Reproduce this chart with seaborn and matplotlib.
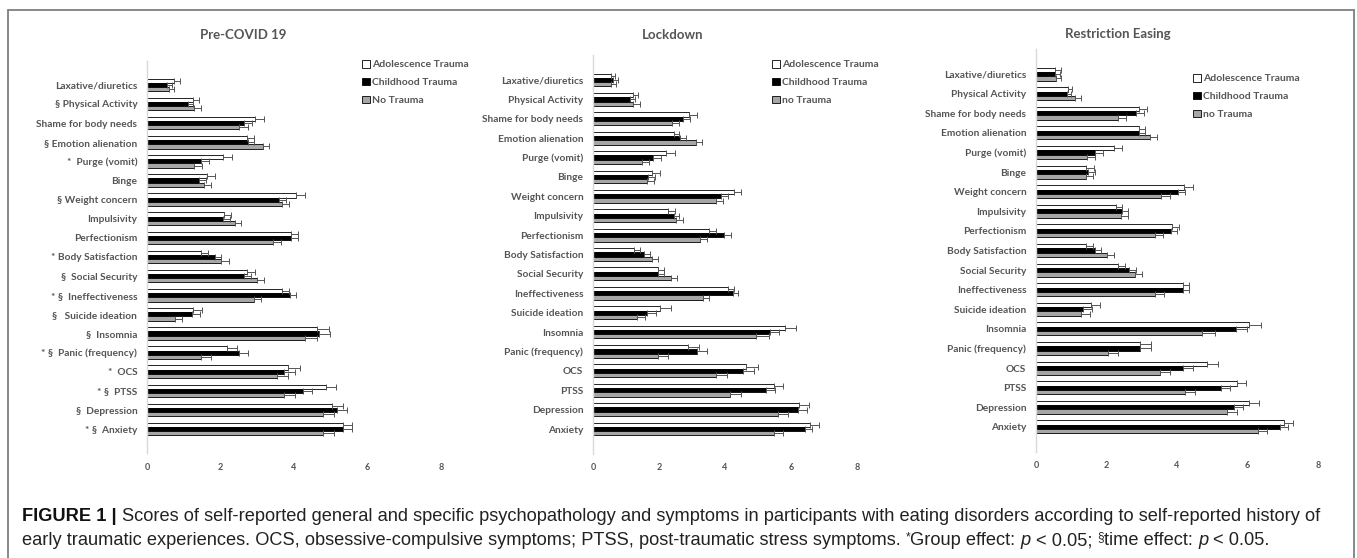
import numpy as np
import pandas as pd
import matplotlib
matplotlib.use("Agg")
import matplotlib.pyplot as plt
import seaborn as sns

# ---- categories (top to bottom) ----
categories = ["Laxative/diuretics", "Physical Activity", "Shame for body needs",
              "Emotion alienation", "Purge (vomit)", "Binge", "Weight concern",
              "Impulsivity", "Perfectionism", "Body Satisfaction", "Social Security",
              "Ineffectiveness", "Suicide ideation", "Insomnia", "Panic (frequency)",
              "OCS", "PTSS", "Depression", "Anxiety"]

# significance markers shown only on the first panel
pre_labels = ["Laxative/diuretics", "§ Physical Activity", "Shame for body needs",
              "§ Emotion alienation", "*  Purge (vomit)", "Binge", "§ Weight concern",
              "Impulsivity", "Perfectionism", "* Body Satisfaction", "§  Social Security",
              "* §  Ineffectiveness", "§   Suicide ideation", "§  Insomnia",
              "* §  Panic (frequency)", "*  OCS", "* §  PTSS", "§  Depression",
              "* §  Anxiety"]

groups = ["Adolescence Trauma", "Childhood Trauma", "No Trauma"]

# ---- Pre-COVID 19 ----
pre_adol = [0.74, 1.26, 2.95, 2.73, 2.06, 1.64, 4.06, 2.10, 3.91, 1.48, 2.73, 3.68, 1.26, 4.63, 2.17, 3.85, 4.86, 5.04, 5.32]
pre_child = [0.54, 1.11, 2.65, 2.74, 1.46, 1.41, 3.58, 2.08, 3.92, 1.84, 2.65, 3.89, 1.22, 4.67, 2.49, 3.72, 4.24, 5.16, 5.32]
pre_none = [0.60, 1.29, 2.51, 3.15, 1.29, 1.55, 3.66, 2.39, 3.44, 2.02, 3.00, 2.91, 0.75, 4.31, 1.48, 3.53, 3.74, 4.80, 4.80]
pre_adol_err = [0.15, 0.15, 0.24, 0.18, 0.26, 0.21, 0.23, 0.18, 0.19, 0.17, 0.21, 0.19, 0.24, 0.33, 0.27, 0.31, 0.27, 0.28, 0.25]
pre_child_err = [0.13, 0.15, 0.21, 0.18, 0.22, 0.19, 0.19, 0.18, 0.19, 0.17, 0.18, 0.16, 0.21, 0.32, 0.26, 0.32, 0.26, 0.27, 0.25]
pre_none_err = [0.14, 0.17, 0.23, 0.18, 0.21, 0.20, 0.21, 0.17, 0.21, 0.22, 0.19, 0.20, 0.19, 0.32, 0.26, 0.31, 0.30, 0.30, 0.30]

# ---- Lockdown ----
lock_adol = [0.54, 1.20, 2.90, 2.45, 2.21, 1.80, 4.27, 2.27, 3.52, 1.23, 1.96, 4.08, 2.03, 5.81, 2.87, 4.65, 5.49, 6.25, 6.57]
lock_child = [0.62, 1.12, 2.74, 2.63, 1.82, 1.68, 3.89, 2.44, 3.98, 1.56, 1.96, 4.23, 1.64, 5.35, 3.16, 4.56, 5.23, 6.20, 6.43]
lock_none = [0.54, 1.20, 2.38, 3.11, 1.47, 1.65, 3.72, 2.53, 3.23, 1.78, 2.36, 3.32, 1.33, 4.95, 1.96, 3.73, 4.16, 5.62, 5.48]
lock_adol_err = [0.12, 0.16, 0.25, 0.17, 0.26, 0.22, 0.21, 0.20, 0.21, 0.18, 0.18, 0.18, 0.32, 0.35, 0.33, 0.34, 0.28, 0.30, 0.28]
lock_child_err = [0.14, 0.14, 0.21, 0.19, 0.23, 0.20, 0.19, 0.17, 0.19, 0.17, 0.18, 0.16, 0.27, 0.30, 0.29, 0.33, 0.29, 0.28, 0.22]
lock_none_err = [0.15, 0.21, 0.24, 0.19, 0.24, 0.21, 0.22, 0.20, 0.23, 0.18, 0.20, 0.20, 0.25, 0.37, 0.30, 0.33, 0.32, 0.29, 0.29]

# ---- Restriction Easing ----
ease_adol = [0.55, 0.91, 2.91, 2.91, 2.20, 1.43, 4.20, 2.26, 3.87, 1.42, 2.32, 4.16, 1.55, 6.05, 2.96, 4.86, 5.71, 6.05, 7.04]
ease_child = [0.54, 0.88, 2.84, 2.92, 1.66, 1.48, 4.03, 2.43, 3.82, 1.67, 2.65, 4.18, 1.33, 5.67, 2.96, 4.16, 5.24, 5.61, 6.93]
ease_none = [0.56, 1.12, 2.34, 3.24, 1.46, 1.42, 3.56, 2.41, 3.39, 2.01, 2.80, 3.38, 1.27, 4.70, 2.03, 3.52, 4.24, 5.43, 6.31]
ease_adol_err = [0.15, 0.10, 0.24, 0.18, 0.25, 0.21, 0.24, 0.19, 0.19, 0.19, 0.20, 0.19, 0.27, 0.32, 0.31, 0.31, 0.25, 0.28, 0.24]
ease_child_err = [0.15, 0.10, 0.22, 0.18, 0.23, 0.18, 0.21, 0.19, 0.19, 0.18, 0.18, 0.17, 0.25, 0.32, 0.31, 0.29, 0.25, 0.25, 0.22]
ease_none_err = [0.14, 0.17, 0.22, 0.19, 0.20, 0.20, 0.23, 0.20, 0.21, 0.20, 0.21, 0.24, 0.26, 0.37, 0.29, 0.29, 0.28, 0.28, 0.25]

x_ticks = [0, 2, 4, 6, 8]

W, H = 1357, 558
sns.set_style("white")
plt.rcParams["font.family"] = ["Lato", "DejaVu Sans"]

LABEL_COL = "#555555"
bar_colors = {"Adolescence Trauma": "#ffffff", "Childhood Trauma": "#000000", "No Trauma": "#a6a6a6"}

fig = plt.figure(figsize=(W / 100, H / 100), dpi=100)


def px_axes(x0, x1, ytop, ybot):
    return [x0 / W, 1 - ybot / H, (x1 - x0) / W, (ybot - ytop) / H]


panels = [
    dict(title="Pre-COVID 19", rect=px_axes(147, 441, 60.7, 453.3), title_xy=(243, 35),
         leg_xy=(362, 60), labels=pre_labels,
         vals=[pre_adol, pre_child, pre_none], errs=[pre_adol_err, pre_child_err, pre_none_err],
         leg_labels=["Adolescence Trauma", "Childhood Trauma", "No Trauma"]),
    dict(title="Lockdown", rect=px_axes(593, 857, 55.5, 453.5), title_xy=(673, 35),
         leg_xy=(772, 60), labels=categories,
         vals=[lock_adol, lock_child, lock_none], errs=[lock_adol_err, lock_child_err, lock_none_err],
         leg_labels=["Adolescence Trauma", "Childhood Trauma", "no Trauma"]),
    dict(title="Restriction Easing", rect=px_axes(1036, 1318, 49.4, 451.6), title_xy=(1118, 34),
         leg_xy=(1193, 74), labels=categories,
         vals=[ease_adol, ease_child, ease_none], errs=[ease_adol_err, ease_child_err, ease_none_err],
         leg_labels=["Adolescence Trauma", "Childhood Trauma", "no Trauma"]),
]

for p in panels:
    ax = fig.add_axes(p["rect"])
    df = pd.DataFrame({
        "category": categories * 3,
        "group": np.repeat(groups, len(categories)),
        "score": np.concatenate(p["vals"]),
    })
    sns.barplot(data=df, x="score", y="category", hue="group", order=categories,
                hue_order=groups, palette=bar_colors, orient="h", width=0.66,
                errorbar=None, edgecolor="#000000", linewidth=0.6, ax=ax, legend=True,
                saturation=1)
    # one-sided error bars from the bar ends
    for cont, err in zip(ax.containers, p["errs"]):
        ys = [b.get_y() + b.get_height() / 2 for b in cont]
        xs = [b.get_width() for b in cont]
        ax.errorbar(xs, ys, xerr=[np.zeros(len(err)), err], fmt="none",
                    ecolor="#555555", elinewidth=0.7, capsize=2.0, capthick=0.7)
    ax.set_xlim(0, 8)
    ax.set_xticks(x_ticks)
    ax.set_xticklabels([str(t) for t in x_ticks], fontsize=6.5, fontweight="bold", color=LABEL_COL)
    ax.set_yticks(range(len(categories)))
    ax.set_yticklabels(p["labels"], fontsize=7.3, fontweight="bold", color=LABEL_COL)
    ax.tick_params(axis="x", length=0, pad=7)
    ax.tick_params(axis="y", length=0, pad=7)
    ax.set_xlabel("")
    ax.set_ylabel("")
    for s in ["top", "right", "bottom"]:
        ax.spines[s].set_visible(False)
    ax.spines["left"].set_color("#d9d9d9")
    ax.spines["left"].set_linewidth(1.0)

    handles, _ = ax.get_legend_handles_labels()
    ax.legend(handles, p["leg_labels"], loc="upper left",
              bbox_to_anchor=(p["leg_xy"][0] / W, 1 - p["leg_xy"][1] / H),
              bbox_transform=fig.transFigure, frameon=False,
              handlelength=0.75, handleheight=0.75, handletextpad=0.25,
              labelspacing=0.8, borderpad=0, borderaxespad=0,
              prop={"family": ["Lato", "DejaVu Sans"], "weight": "bold", "size": 7.5},
              labelcolor=LABEL_COL)

    fig.text(p["title_xy"][0] / W, 1 - p["title_xy"][1] / H, p["title"], ha="center",
             va="center", fontsize=9.5, fontweight="bold", color=LABEL_COL)

# ---- frame lines ----
frame_kw = dict(color="#7f7f7f", linewidth=1.3, transform=fig.transFigure)
fig.add_artist(plt.Line2D([8 / W, 8 / W], [0, 1 - 10 / H], **frame_kw))
fig.add_artist(plt.Line2D([8 / W, 1354 / W], [1 - 10 / H, 1 - 10 / H], **frame_kw))
fig.add_artist(plt.Line2D([1354 / W, 1354 / W], [0, 1 - 10 / H], **frame_kw))

# ---- caption, drawn run by run ----
cap_family = ["Liberation Sans Narrow", "Liberation Sans", "DejaVu Sans"]
cap_size = 13.15
renderer = fig.canvas.get_renderer()


def text_width(s, size=cap_size):
    t = fig.text(0, 0, s, fontsize=size, family=cap_family)
    w = t.get_window_extent(renderer).width
    t.remove()
    return w


space_w = text_width("a a") - text_width("aa")


def draw_runs(x, y, runs):
    for s, kw in runs:
        lead = len(s) - len(s.lstrip(" "))
        x += lead * space_w
        core = s.strip(" ")
        size = kw.get("size", cap_size)
        dy = kw.get("rise", 0)
        t = fig.text(x / W, 1 - (y - dy) / H, core, ha="left", va="baseline",
                     fontsize=size, family=cap_family, color=kw.get("color", "#222222"),
                     fontweight=kw.get("weight", "normal"), fontstyle=kw.get("style", "normal"))
        x += t.get_window_extent(renderer).width
        trail = len(s) - len(s.rstrip(" "))
        x += trail * space_w


draw_runs(22, 521, [
    ("FIGURE 1 |", dict(weight="bold", color="#111111")),
    (" Scores of self-reported general and specific psychopathology and symptoms in participants "
     "with eating disorders according to self-reported history of", {}),
])
sup = dict(size=8.5, rise=5)
draw_runs(22, 545, [
    ("early traumatic experiences. OCS, obsessive-compulsive symptoms; PTSS, post-traumatic "
     "stress symptoms. ", {}),
    ("*", sup),
    ("Group effect: ", {}),
    ("p", dict(style="italic")),
    (" < 0.05; ", {}),
    ("§", sup),
    ("time effect: ", {}),
    ("p", dict(style="italic")),
    (" < 0.05.", {}),
])

fig.savefig("out.png", dpi=100)
